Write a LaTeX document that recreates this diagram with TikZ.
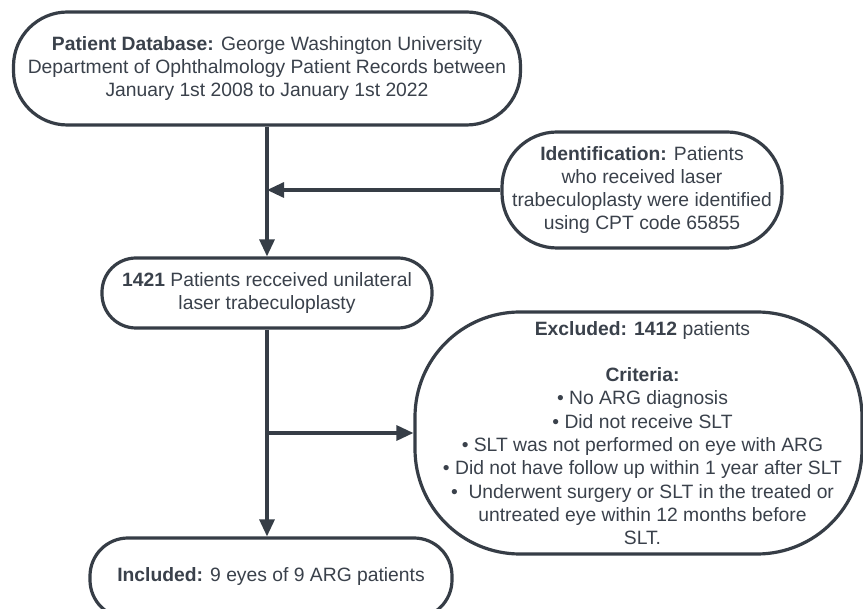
\documentclass[tikz,border=0pt]{standalone}
\usepackage{fontspec}
\setmainfont{Liberation Sans}
\usetikzlibrary{arrows.meta}
\definecolor{linec}{HTML}{363D46}
\definecolor{textc}{HTML}{3A414B}
\tikzset{
  box/.style={draw=linec, line width=3.2pt, fill=white, text=textc, inner sep=0pt,
    align=center, font=\fontsize{19.3}{23.3}\selectfont},
  conn/.style={draw=linec, line width=3.2pt},
  arr/.style={conn, -{Triangle[length=17pt,width=15pt]}}
}
\begin{document}
\begin{tikzpicture}[x=1pt,y=-1pt]
\useasboundingbox (0,0) rectangle (863,609);
\node[box, minimum width=507pt, minimum height=113pt, rounded corners=54pt] (top) at (267,68.5)
  {\textbf{Patient Database:} George Washington University\\Department of Ophthalmology Patient Records between\\January 1st 2008 to January 1st 2022};
\node[box, minimum width=280pt, minimum height=116pt, rounded corners=55pt] (ident) at (642,190)
  {\textbf{Identification:} Patients\\who received laser\\trabeculoplasty were identified\\using CPT code 65855};
\node[box, minimum width=330pt, minimum height=70pt, rounded corners=34pt] (lt) at (267,293)
  {\textbf{1421} Patients recceived unilateral\\laser trabeculoplasty};
\node[box, minimum width=447pt, minimum height=242pt, rounded corners=105pt] (excl) at (638.5,433)
  {\hspace*{8pt}\textbf{Excluded: 1412} patients\\ ~\\\hspace*{8pt}\textbf{Criteria:}\\\hspace*{8pt}\textbullet{} No ARG diagnosis\\\hspace*{8pt}\textbullet{} Did not receive SLT\\\hspace*{8pt}\textbullet{} SLT was not performed on eye with ARG\\\hspace*{8pt}\textbullet{} Did not have follow up within 1 year after SLT\\\hspace*{8pt}\textbullet{}\ \ Underwent surgery or SLT in the treated or\\\hspace*{8pt}untreated eye within 12 months before\\\hspace*{8pt}SLT.};
\node[box, minimum width=362pt, minimum height=80pt, rounded corners=38pt] (incl) at (271,578)
  {\raisebox{6pt}{\textbf{Included:} 9 eyes of 9 ARG patients}};
\coordinate (j1) at (top.south |- ident.west);
\coordinate (j2) at (lt.south |- excl.west);
\draw[arr] (top.south) -- (lt.north);
\draw[arr] (ident.west) -- (j1);
\draw[arr] (lt.south) -- (lt.south |- incl.north);
\draw[arr] (j2) -- (excl.west);
\end{tikzpicture}
\end{document}
